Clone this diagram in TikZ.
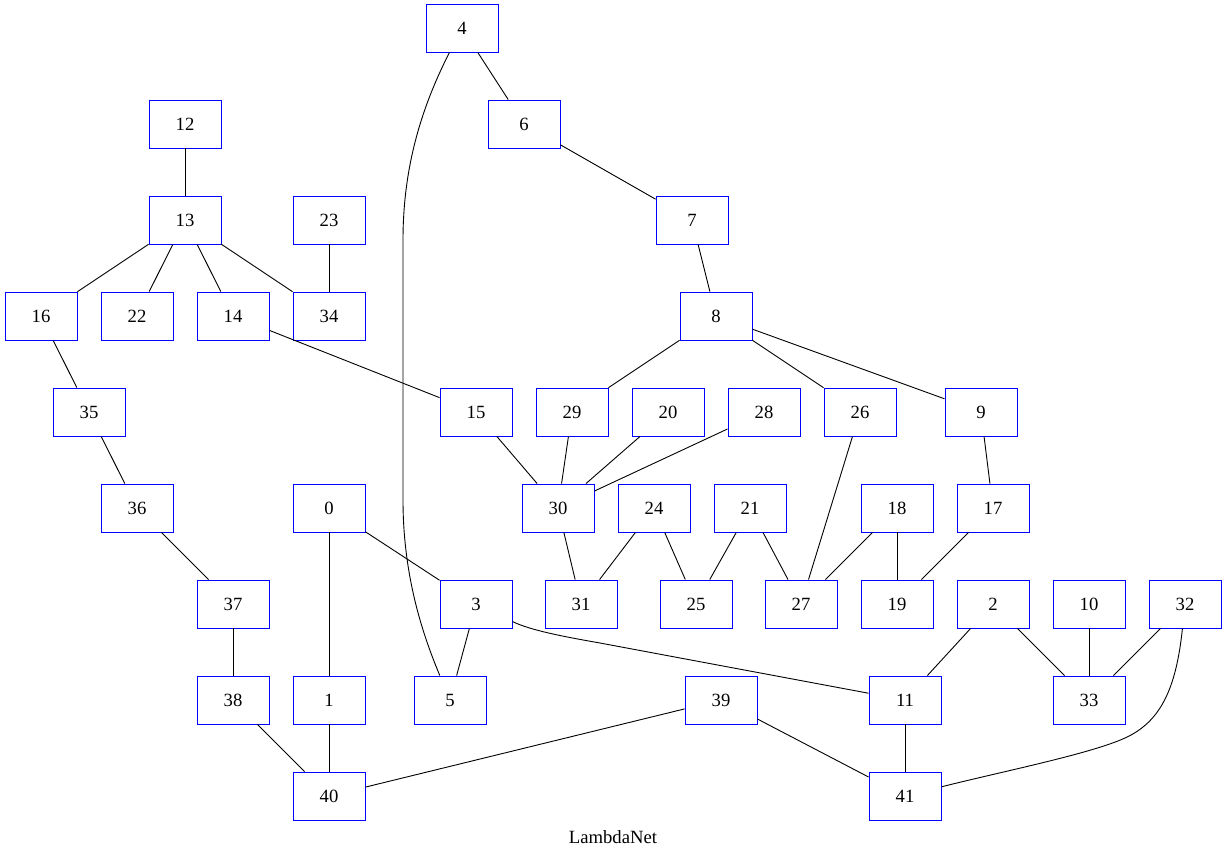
\documentclass[tikz,border=0pt]{standalone}
\usepackage{fontspec}
\setmainfont{Liberation Serif}
\begin{document}
\begin{tikzpicture}[x=1pt,y=-1pt,
  nd/.style={draw=blue,line width=0.9pt,minimum width=72pt,minimum height=48pt,inner sep=0pt,font=\fontsize{18.67}{20}\selectfont},
  ed/.style={draw=black,line width=0.9pt}]
\useasboundingbox (0,0) rectangle (1227,863);
\foreach \n/\x/\y in {4/462/28,12/185/124,6/524/124,13/185/220,23/329/220,7/692/220,
 16/41/316,22/137/316,14/233/316,34/329/316,8/716/316,
 35/89/412,15/476/412,29/572/412,20/668/412,28/764/412,26/860/412,9/981/412,
 36/137/508,0/329/508,30/558/508,24/654/508,21/750/508,18/897/508,17/993/508,
 37/233/604,3/476/604,31/581/604,25/696/604,27/801/604,19/897/604,2/993/604,10/1089/604,32/1185/604,
 38/233/700,1/329/700,5/450/700,39/721/700,11/905/700,33/1089/700,
 40/329/796,41/905/796}
  \node[nd] (\n) at (\x,\y) {\n};
\node[font=\fontsize{18.67}{20}\selectfont] (title) at (613,837) {LambdaNet};
\foreach \a/\b in {4/6,12/13,13/16,13/22,13/14,13/34,23/34,6/7,7/8,14/15,16/35,
 8/29,8/26,8/9,35/36,15/30,29/30,20/30,28/30,26/27,9/17,36/37,0/1,0/3,30/31,
 24/31,24/25,21/25,21/27,18/27,18/19,17/19,37/38,3/5,2/11,2/33,10/33,32/33,
 38/40,1/40,39/40,39/41,11/41}
  \draw[ed] (\a) -- (\b);
\draw[ed] (4) .. controls (420,110) and (403,170) .. (403,240) -- (403,500) .. controls (403,580) and (425,640) .. (5);
\draw[ed] (32) .. controls (1176,690) and (1160,722) .. (1125,738) .. controls (1090,754) and (1000,772) .. (41);
\draw[ed] (3) .. controls (530,630) and (560,636) .. (600,643) -- (11);
\end{tikzpicture}
\end{document}
